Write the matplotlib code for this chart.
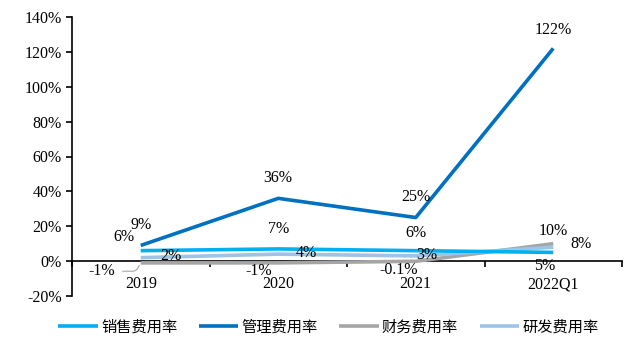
import matplotlib.pyplot as plt
from matplotlib.ticker import FixedLocator, FuncFormatter

plt.rcParams['font.family'] = ['Liberation Serif', 'Noto Sans CJK SC']

periods = ['2019', '2020', '2021', '2022Q1']
sales = [6, 7, 6, 5]
admin = [9, 36, 25, 122]
finance = [-1, -1, -0.1, 10]
rnd = [2, 4, 3, 8]

series = [
    ('销售费用率', sales, '#00B0F0'),
    ('管理费用率', admin, '#0070C0'),
    ('财务费用率', finance, '#A5A5A5'),
    ('研发费用率', rnd, '#9DC3E6'),
]

# label offsets (points) per series and period
offsets = {
    '销售费用率': [(-12, 10), (0, 14), (0, 13), (-6, -10)],
    '管理费用率': [(0, 15), (0, 15), (0, 15), (0, 13)],
    '财务费用率': [(-28, -6), (-14, -6), (-12, -6), (0, 9)],
    '研发费用率': [(22, 1), (20, 1), (8, 1), (20, 2)],
}

fig = plt.figure(figsize=(6.44, 3.4), dpi=100)
ax = fig.add_axes([72 / 644, 44 / 340, 550 / 644, 279 / 340])

x = list(range(len(periods)))
draw_order = ['财务费用率', '研发费用率', '销售费用率', '管理费用率']
handles = {}
for name, vals, color in series:
    line, = ax.plot(x, vals, color=color, lw=2.6, solid_capstyle='butt',
                    zorder=3 + draw_order.index(name), label=name)
    handles[name] = line
    for i, v in enumerate(vals):
        txt = f'{v:g}%'
        dx, dy = offsets[name][i]
        ax.annotate(txt, (i, v), xytext=(dx, dy), textcoords='offset points',
                    ha='center', va='center', fontsize=11.5, zorder=10)

# leader line for the 2019 financial label
ax.annotate('', (0, finance[0]), xytext=(-15, -6), textcoords='offset points',
            arrowprops=dict(arrowstyle='-', color='#A5A5A5', lw=0.8,
                            connectionstyle='angle,angleA=0,angleB=60,rad=3'))

ax.set_xlim(-0.5, 3.5)
ax.set_ylim(-20, 140)
ax.set_yticks(range(-20, 141, 20))
ax.yaxis.set_major_formatter(FuncFormatter(lambda v, p: f'{v:.0f}%'))

ax.spines['top'].set_visible(False)
ax.spines['right'].set_visible(False)
ax.spines['bottom'].set_position(('data', 0))
ax.spines['left'].set_linewidth(1.2)
ax.spines['bottom'].set_linewidth(1.2)

ax.xaxis.set_major_locator(FixedLocator(x))
ax.set_xticklabels(periods)
ax.xaxis.set_minor_locator(FixedLocator([-0.5, 0.5, 1.5, 2.5, 3.5]))
ax.tick_params(axis='x', which='major', length=0, pad=11, labelsize=11.5)
ax.tick_params(axis='x', which='minor', length=4, width=1.2, direction='out')
ax.tick_params(axis='y', length=4, width=1.2, direction='out', labelsize=11.5)

fig.legend([handles[n] for n, _, _ in series], [n for n, _, _ in series],
           loc='lower center', bbox_to_anchor=(0.51, -0.025), ncol=4, frameon=False,
           fontsize=11, handlelength=2.6, columnspacing=1.4, handletextpad=0.2)

fig.savefig('out.png', dpi=100)
